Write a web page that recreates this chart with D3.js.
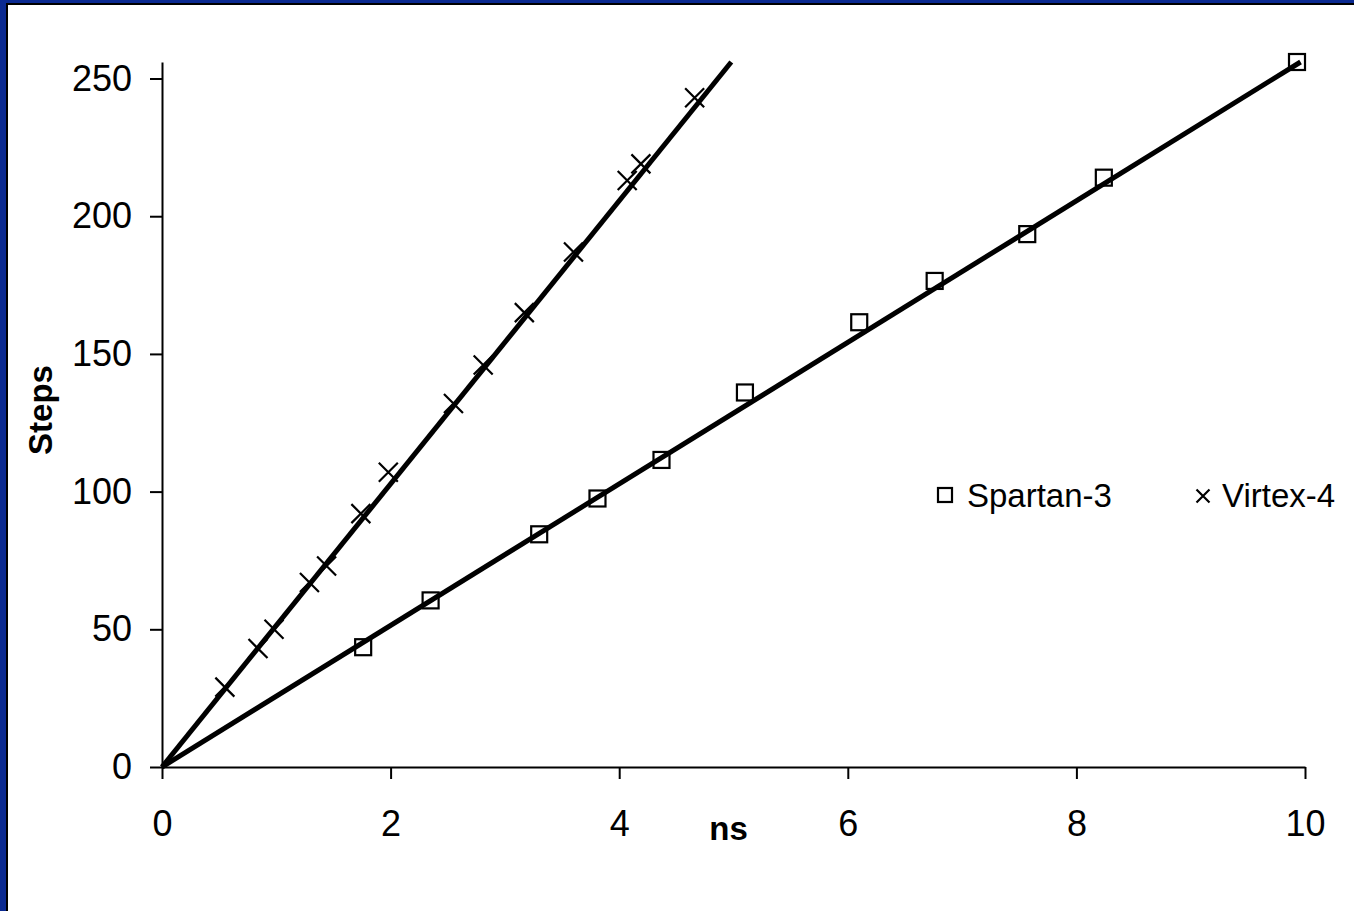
<!DOCTYPE html>
<html>
<head>
<meta charset="utf-8">
<script src="https://cdn.jsdelivr.net/npm/d3@7"></script>
<style>
  body { margin: 0; background: #fff; }
  text { font-family: Arial, "Liberation Sans", sans-serif; }
</style>
</head>
<body>
<div id="container"></div>
<script>
// Virtex-4 points (x markers)
let virtexNs    = [0.55, 0.84, 0.98, 1.29, 1.44, 1.74, 1.98, 2.55, 2.81, 3.17, 3.60, 4.07, 4.19, 4.66];
let virtexSteps = [29, 43, 50, 67, 73, 92, 107, 132, 146, 165, 187, 213, 219, 243];

// Spartan-3 points (squares)
let spartanNs    = [1.76, 2.35, 3.30, 3.81, 4.37, 5.10, 6.10, 6.76, 7.57, 8.24, 9.93];
let spartanSteps = [43.5, 60.5, 84.5, 97.5, 111.5, 136, 161.5, 176.5, 193.5, 214, 256];

// trend line slopes (steps per ns)
let trendSlopes = [25.7, 51.4];

let xTicks = [0, 2, 4, 6, 8, 10];
let yTicks = [0, 50, 100, 150, 200, 250];
let seriesNames = ["Spartan-3", "Virtex-4"];

let W = 1354, H = 911;

let svg = d3.select("#container")
  .append("svg")
    .attr("width", W)
    .attr("height", H)
;

// slide frame
svg.append("rect").attr("width", W).attr("height", H).attr("fill", "#0B2A91");
svg.append("rect").attr("x", 6).attr("y", 3).attr("width", W).attr("height", H).attr("fill", "#000");
svg.append("rect").attr("x", 8).attr("y", 5).attr("width", W).attr("height", H).attr("fill", "#fff");

let x = d3.scaleLinear().domain([0, 10]).range([162, 1305]);
let y = d3.scaleLinear().domain([0, 256]).range([767, 62]);

// axes
let xAxis = svg.append("g")
  .attr("transform", "translate(0," + y(0) + ")")
  .call(d3.axisBottom(x).tickValues(xTicks).tickSize(12).tickSizeOuter(0).tickPadding(31));

let yAxis = svg.append("g")
  .attr("transform", "translate(" + x(0) + ",0)")
  .call(d3.axisLeft(y).tickValues(yTicks).tickSize(12).tickSizeOuter(0).tickPadding(18));

[xAxis, yAxis].forEach(function(a){
  a.selectAll("path, line").attr("stroke", "#000").attr("stroke-width", 2);
  a.selectAll("text").attr("font-size", 36).attr("fill", "#000")
    .style("font-family", "Arial, 'Liberation Sans', sans-serif");
});

// axis titles
svg.append("text")
  .attr("x", x(5) - 5)
  .attr("y", 840)
  .attr("text-anchor", "middle")
  .attr("font-size", 33)
  .attr("font-weight", "bold")
  .text("ns");

svg.append("text")
  .attr("transform", "translate(52,410) rotate(-90)")
  .attr("text-anchor", "middle")
  .attr("font-size", 33)
  .attr("font-weight", "bold")
  .text("Steps");

// trend lines through origin, clipped at the top of the axis
function trend(k){
  let yMax = y.domain()[1];
  let xEnd = Math.min(x.domain()[1], yMax / k);
  svg.append("line")
    .attr("x1", x(0)).attr("y1", y(0))
    .attr("x2", x(xEnd)).attr("y2", y(k * xEnd))
    .attr("stroke", "#000")
    .attr("stroke-width", 5)
    .attr("stroke-linecap", "butt");
}

// markers
function squareAt(g, cx, cy, s){
  g.append("rect")
    .attr("x", cx - s / 2).attr("y", cy - s / 2)
    .attr("width", s).attr("height", s)
    .attr("fill", "none").attr("stroke", "#000").attr("stroke-width", 2.2);
}
function crossAt(g, cx, cy, s){
  let h = s / 2;
  g.append("path")
    .attr("d", "M" + (cx - h) + "," + (cy - h) + "L" + (cx + h) + "," + (cy + h) +
               "M" + (cx - h) + "," + (cy + h) + "L" + (cx + h) + "," + (cy - h))
    .attr("stroke", "#000").attr("stroke-width", 2.2).attr("fill", "none");
}

let marks = svg.append("g");
spartanNs.forEach(function(d, i){ squareAt(marks, x(d), y(spartanSteps[i]), 16); });
virtexNs.forEach(function(d, i){ crossAt(marks, x(d), y(virtexSteps[i]), 19); });

trendSlopes.forEach(trend);

// legend
let legend = svg.append("g");
squareAt(legend, 945, 495, 14);
legend.append("text").attr("x", 967).attr("y", 507).attr("font-size", 33).text(seriesNames[0]);
crossAt(legend, 1203, 496, 13);
legend.append("text").attr("x", 1222).attr("y", 507).attr("font-size", 33).text(seriesNames[1]);
</script>
</body>
</html>
